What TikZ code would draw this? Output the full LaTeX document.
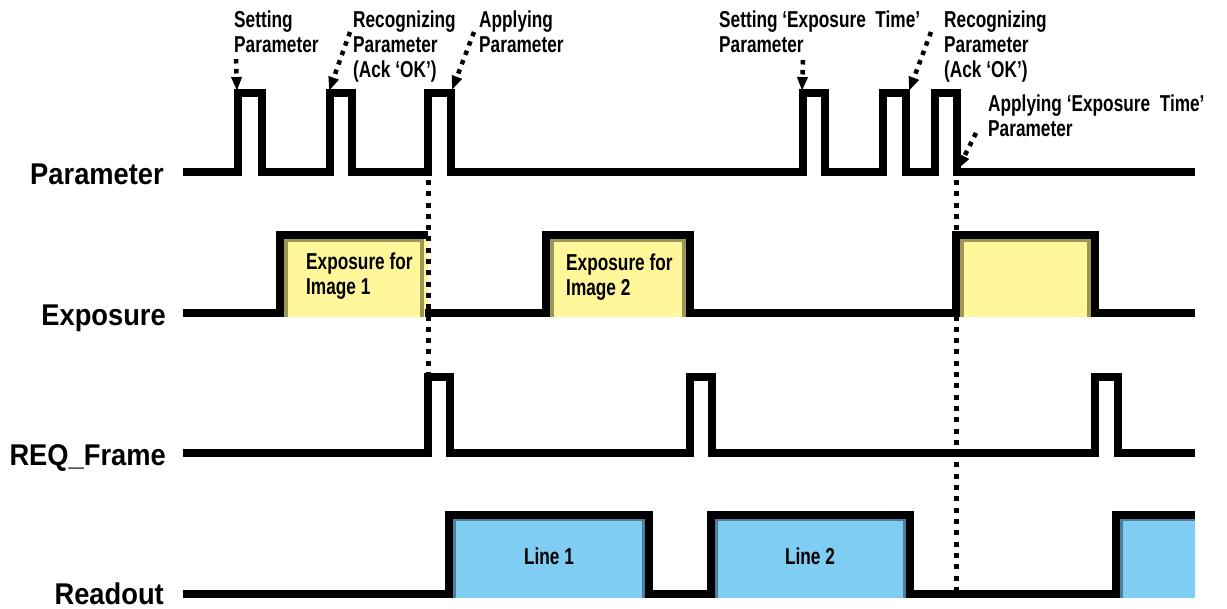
\documentclass[tikz,border=0pt]{standalone}
\usepackage{fontspec}
\setmainfont{Liberation Sans}
\newfontfamily\notefont[FakeStretch=0.75]{Liberation Sans Bold}
\newfontfamily\sigfont[FakeStretch=0.91]{Liberation Sans Bold}
\usetikzlibrary{arrows.meta}
\definecolor{expyellow}{RGB}{255,247,153}
\definecolor{expolive}{RGB}{158,150,84}
\definecolor{lineblue}{RGB}{128,205,243}
\definecolor{linesteel}{RGB}{74,128,158}

\begin{document}
\begin{tikzpicture}[x=1pt,y=-1pt,
  wave/.style={line width=7.5pt,line join=miter},
  marker/.style={line width=5pt,dash pattern=on 5pt off 6.3pt},
  pointer/.style={line width=4.5pt,dash pattern=on 4.5pt off 5.5pt,-{Triangle[width=10pt,length=14pt]}},
  signame/.style={anchor=base east,inner sep=0pt,font=\sigfont\fontsize{30}{32}\selectfont},
  note/.style={anchor=base west,inner sep=0pt,align=left,font=\notefont\fontsize{23}{25}\selectfont},
  expfill/.style={fill=expyellow},
  expedge/.style={draw=expolive,line width=4pt},
  readfill/.style={fill=lineblue},
  readedge/.style={draw=linesteel,line width=3.5pt}]
\useasboundingbox (0,0) rectangle (1227,609);

% signal names
\node[signame] (param) at (164,185) {Parameter};
\node[signame] (expo) at (166,326) {Exposure};
\node[signame] (reqf) at (166,466) {REQ\_Frame};
\node[signame] (rdout) at (164,604) {Readout};

% exposure boxes
\fill[expfill] (280,235) rectangle (428,316.75);
\draw[expedge] (285.75,316.75) |- (422.25,239.75) -- (422.25,316.75);
\fill[expfill] (546,235) rectangle (690,316.75);
\draw[expedge] (551.75,316.75) |- (684.25,239.75) -- (684.25,316.75);
\fill[expfill] (956,235) rectangle (1095,316.75);
\draw[expedge] (961.75,316.75) |- (1089.25,239.75) -- (1089.25,316.75);

% readout boxes
\fill[readfill] (449,515) rectangle (649,597.75);
\draw[readedge] (454.5,597.75) |- (643.5,519.5) -- (643.5,597.75);
\fill[readfill] (711,515) rectangle (910,597.75);
\draw[readedge] (716.5,597.75) |- (904.5,519.5) -- (904.5,597.75);
\fill[readfill] (1116,515) rectangle (1195,597.75);
\draw[readedge] (1121.5,597.75) |- (1195,519.5);

% waveforms
\draw[wave] (183,172) -| (238,93) -| (262,172) -| (330,93) -| (352,172) -| (428,93) -| (451,172)
  -| (803,93) -| (825,172) -| (883,93) -| (906,172) -| (935,93) -| (957,172) -- (1195,172);
\draw[wave] (183,313) -| (280,235) -- (428,235);
\draw[wave] (425,313) -| (546,235) -| (690,313) -| (956,235) -| (1095,313) -- (1195,313);
\draw[wave] (183,453) -| (428,377) -| (450,453) -| (690,377) -| (712,453) -| (1095,377) -| (1118,453) -- (1195,453);
\draw[wave] (183,594) -| (449,515) -| (649,594) -| (711,515) -| (910,594) -| (1116,515) -- (1195,515);

% dotted markers
\draw[marker] (428,180) -- (428,373);
\draw[marker] (956,180) -- (956,590);

% box texts
\node[note] (img1) at (306,295) {Exposure for\\Image 1};
\node[note] (img2) at (566,296) {Exposure for\\Image 2};
\node[note,anchor=base] (ln1) at (549,565) {Line 1};
\node[note,anchor=base] (ln2) at (810,565) {Line 2};

% annotations
\node[note] (setp) at (234,53) {Setting\\Parameter};
\node[note] (recp) at (353,78) {Recognizing\\Parameter\\(Ack ‘OK’)};
\node[note] (appp) at (479,53) {Applying\\Parameter};
\node[note] (sete) at (719,53) {Setting ‘Exposure\ \ Time’\\Parameter};
\node[note] (rece) at (944,78) {Recognizing\\Parameter\\(Ack ‘OK’)};
\node[note] (appe) at (988,137) {Applying ‘Exposure\ \ Time’\\Parameter};

% arrow ends
\coordinate (setp-tail) at (236,59);
\coordinate (setp-tip) at (237,91);
\coordinate (recp-tail) at (350,32);
\coordinate (recp-tip) at (329,91);
\coordinate (appp-tail) at (474,32);
\coordinate (appp-tip) at (452,90);
\coordinate (sete-tail) at (803,60);
\coordinate (sete-tip) at (802,91);
\coordinate (rece-tail) at (931,32);
\coordinate (rece-tip) at (909,91);
\coordinate (appe-tail) at (976,133);
\coordinate (appe-tip) at (958,169);

\draw[pointer] (setp-tail) -- (setp-tip);
\draw[pointer] (recp-tail) -- (recp-tip);
\draw[pointer] (appp-tail) -- (appp-tip);
\draw[pointer] (sete-tail) -- (sete-tip);
\draw[pointer] (rece-tail) -- (rece-tip);
\draw[pointer] (appe-tail) -- (appe-tip);
\end{tikzpicture}
\end{document}
